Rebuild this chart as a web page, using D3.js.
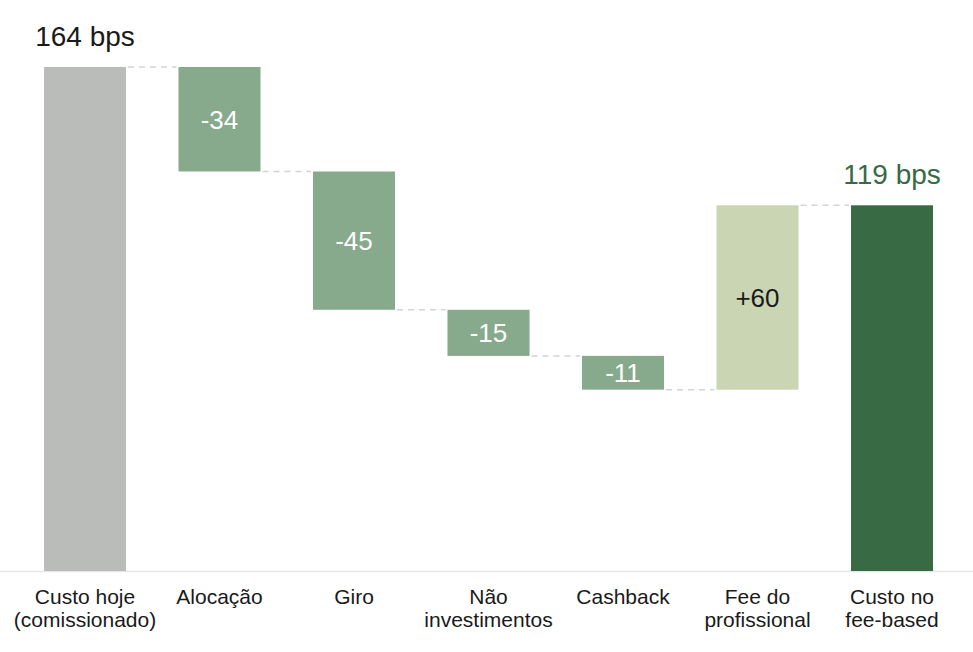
<!DOCTYPE html>
<html>
<head>
<meta charset="utf-8">
<script src="https://cdn.jsdelivr.net/npm/d3@7"></script>
<style>
  body { margin: 0; background: #fff; }
  svg { display: block; font-family: "Liberation Sans", Arial, sans-serif; }
</style>
</head>
<body>
<svg id="chart" width="973" height="652"></svg>
<script>
// waterfall steps
const categories = [
  ['Custo hoje', '(comissionado)'],
  ['Alocação'],
  ['Giro'],
  ['Não', 'investimentos'],
  ['Cashback'],
  ['Fee do', 'profissional'],
  ['Custo no', 'fee-based']
]
const values = [164, -34, -45, -15, -11, 60, 119]
const kinds = ['total', 'delta', 'delta', 'delta', 'delta', 'delta', 'total']
const labels = ['164 bps', '-34', '-45', '-15', '-11', '+60', '119 bps']

const width = 973
const height = 652
const baseY = 571

const svg = d3.select('#chart')

// running start / end of every bar
let run = 0
const steps = values.map((v, i) => {
  let y0, y1
  if (kinds[i] === 'total') {
    y0 = 0; y1 = v; run = v
  } else {
    y0 = run; y1 = run + v; run = y1
  }
  return {i, v, kind: kinds[i], lo: Math.min(y0, y1), hi: Math.max(y0, y1), end: y1, label: labels[i]}
})

const x = d3.scaleBand()
  .domain(d3.range(values.length))
  .range([17.75, 959.25])
  .paddingInner(0.39)
  .paddingOuter(0.195)

const y = d3.scaleLinear()
  .domain([0, 164])
  .range([baseY, 67])

function fill(d) {
  if (d.kind === 'total') return d.i === 0 ? '#b9bcb9' : '#386a43'
  return d.v < 0 ? '#87a98c' : '#c9d5b3'
}

// baseline
svg.append('line')
  .attr('x1', 0).attr('x2', width)
  .attr('y1', baseY + 0.5).attr('y2', baseY + 0.5)
  .attr('stroke', '#e6e6e6')
  .attr('stroke-width', 1.5)

// connectors
svg.append('g')
  .selectAll('line')
  .data(steps.slice(0, -1))
  .join('line')
  .attr('x1', d => x(d.i) + x.bandwidth() + 2)
  .attr('x2', d => x(d.i + 1) - 2)
  .attr('y1', d => y(d.end))
  .attr('y2', d => y(d.end))
  .attr('stroke', '#d4d4d4')
  .attr('stroke-width', 1.5)
  .attr('stroke-dasharray', '6,5')

// bars
svg.append('g')
  .selectAll('rect')
  .data(steps)
  .join('rect')
  .attr('x', d => x(d.i))
  .attr('width', x.bandwidth())
  .attr('y', d => y(d.hi))
  .attr('height', d => y(d.lo) - y(d.hi))
  .attr('fill', fill)

// labels inside delta bars
svg.append('g')
  .selectAll('text')
  .data(steps.filter(d => d.kind === 'delta'))
  .join('text')
  .attr('x', d => x(d.i) + x.bandwidth() / 2)
  .attr('y', d => (y(d.lo) + y(d.hi)) / 2)
  .attr('dy', '0.36em')
  .attr('text-anchor', 'middle')
  .attr('font-size', 26)
  .attr('fill', d => d.v < 0 ? '#ffffff' : '#1a1a1a')
  .text(d => d.label)

// labels above totals
svg.append('g')
  .selectAll('text')
  .data(steps.filter(d => d.kind === 'total'))
  .join('text')
  .attr('x', d => x(d.i) + x.bandwidth() / 2)
  .attr('y', d => y(d.hi) - 21)
  .attr('text-anchor', 'middle')
  .attr('font-size', 28)
  .attr('fill', d => d.i === 0 ? '#1a1a1a' : '#386a43')
  .text(d => d.label)

// category axis labels
svg.append('g')
  .selectAll('text')
  .data(categories)
  .join('text')
  .attr('x', (d, i) => x(i) + x.bandwidth() / 2)
  .attr('y', 604)
  .attr('text-anchor', 'middle')
  .attr('font-size', 21)
  .attr('fill', '#1a1a1a')
  .selectAll('tspan')
  .data(d => d)
  .join('tspan')
  .attr('x', function () { return this.parentNode.getAttribute('x') })
  .attr('dy', (d, j) => j ? 23 : 0)
  .text(d => d)
</script>
</body>
</html>
